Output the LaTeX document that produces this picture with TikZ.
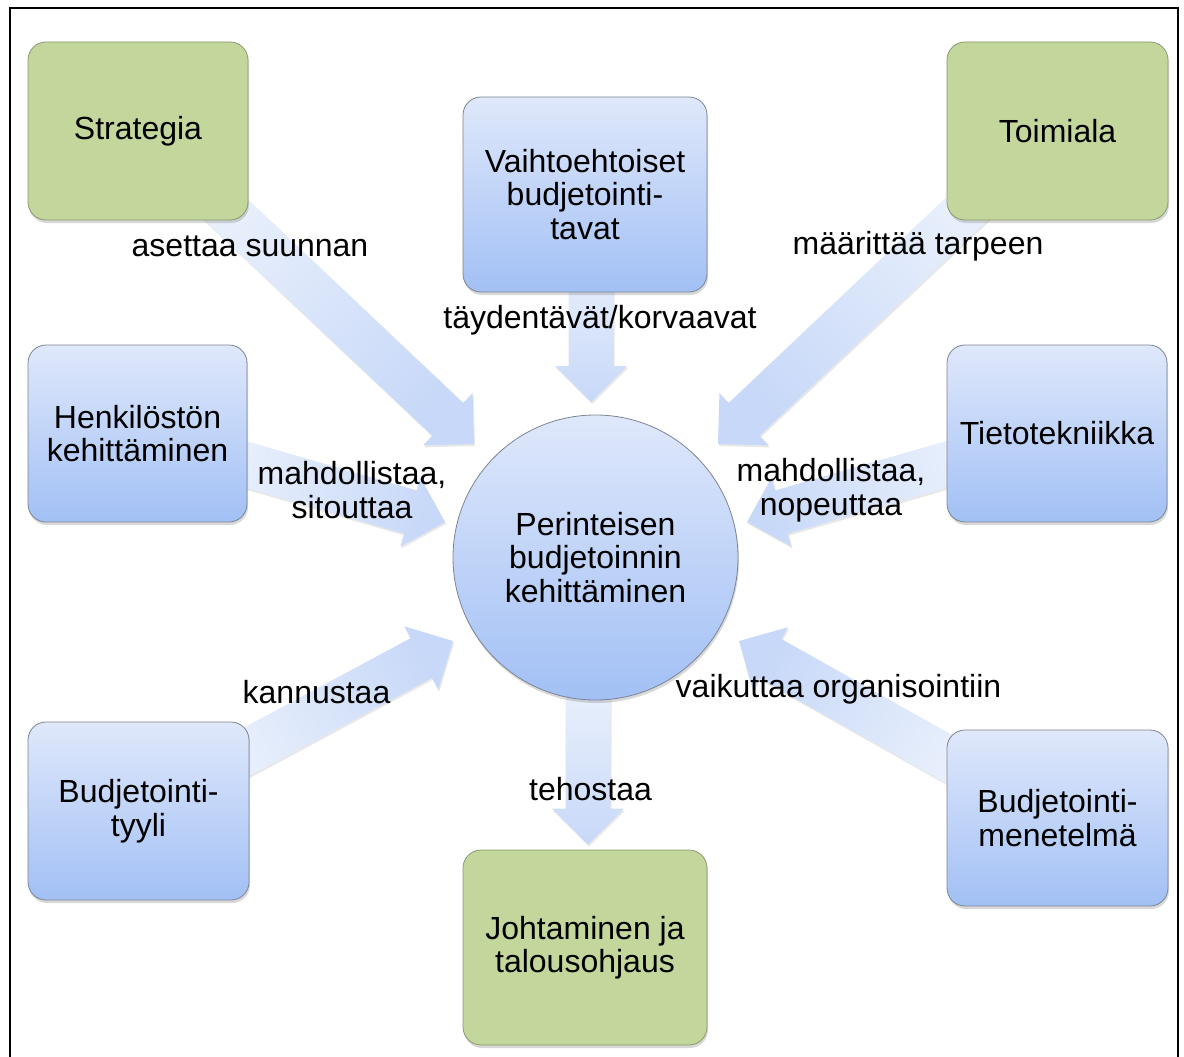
\documentclass[tikz,border=0pt]{standalone}
\usepackage{fontspec}
\setmainfont{Liberation Sans}
\usetikzlibrary{calc,shadows,backgrounds}
\pgfdeclarelayer{bottom}
\pgfsetlayers{bottom,background,main}
\definecolor{boxgreen}{HTML}{C3D69B}
\definecolor{greenline}{HTML}{8A9A70}
\definecolor{bluetop}{HTML}{DFE8FB}
\definecolor{bluebot}{HTML}{A2C0F5}
\definecolor{bluline}{HTML}{7D8594}
\definecolor{arrtail}{HTML}{E9F0FC}
\definecolor{arrhead}{HTML}{C7D8F8}
\newcommand\bigtxt{\fontsize{32}{33.5}\selectfont}
\newcommand\blkarr[3]{%
  \coordinate (hb) at ($(#2)!36pt!(#1)$);
  \path[arrowfill, shading angle=#3]
    ($(#1)!22.5pt!90:(#2)$) -- ($(hb)!22.5pt!90:(#2)$) -- ($(hb)!36pt!90:(#2)$)
    -- (#2) -- ($(hb)!36pt!-90:(#2)$) -- ($(hb)!22.5pt!-90:(#2)$)
    -- ($(#1)!22.5pt!-90:(#2)$) -- cycle;}
\tikzset{
  arrowfill/.style={top color=arrhead, bottom color=arrtail,
    drop shadow={opacity=0.18, shadow xshift=1pt, shadow yshift=-2pt}},
  boxbase/.style={rectangle, rounded corners=18pt, line width=0.8pt, align=center,
    font=\bigtxt, inner sep=2pt,
    drop shadow={opacity=0.3, shadow xshift=1pt, shadow yshift=-3pt}},
  gbox/.style={boxbase, fill=boxgreen, draw=greenline},
  bbox/.style={boxbase, top color=bluetop, bottom color=bluebot, draw=bluline},
  lbl/.style={font=\bigtxt, align=center, inner sep=0pt},
}
\begin{document}
\begin{tikzpicture}[x=1pt, y=-1pt]
\useasboundingbox (0,0) rectangle (1184,1057);
\begin{pgfonlayer}{bottom}
\fill[white] (0,0) rectangle (1184,1057);
\end{pgfonlayer}
\draw[line width=2pt] (10,1057) -- (10,8) -- (1178,8) -- (1178,1057);

% nodes
\node[gbox, minimum width=220pt, minimum height=178pt] (strat) at (138,131) {Strategia};
\node[bbox, minimum width=244pt, minimum height=195pt] (vaiht) at (585,194.5) {Vaihtoehtoiset\\budjetointi-\\tavat};
\node[gbox, minimum width=221pt, minimum height=178pt] (toim) at (1057.5,131) {Toimiala};
\node[bbox, minimum width=219pt, minimum height=177pt] (henk) at (137.5,433.5) {Henkilöstön\\kehittäminen};
\node[bbox, minimum width=220pt, minimum height=177pt] (tieto) at (1057,433.5) {Tietotekniikka};
\node[bbox, minimum width=221pt, minimum height=178pt] (tyyli) at (138.5,811) {Budjetointi-\\tyyli};
\node[bbox, minimum width=221pt, minimum height=176pt] (menet) at (1057.5,818) {Budjetointi-\\menetelmä};
\node[gbox, minimum width=244pt, minimum height=195pt] (joht) at (585,947.5) {Johtaminen ja\\talousohjaus};
\node[circle, minimum size=285pt, inner sep=0pt, top color=bluetop, bottom color=bluebot,
      draw=bluline, line width=0.8pt, align=center, font=\bigtxt,
      drop shadow={opacity=0.3, shadow xshift=1pt, shadow yshift=-3pt}] (c) at (595.5,557.5)
      {Perinteisen\\budjetoinnin\\kehittäminen};

% connector end points
\coordinate (t1) at ($(strat.center)+(62,54)$);
\coordinate (p1) at ($(c.center)+(-121.5,-113.5)$);
\coordinate (t2) at ($(vaiht.center)+(6,65.5)$);
\coordinate (p2) at ($(c.center)+(-4.5,-155.5)$);
\coordinate (t3) at ($(toim.center)+(-65.5,54)$);
\coordinate (p3) at ($(c.center)+(122.5,-113.5)$);
\coordinate (t4) at ($(henk.center)+(82.5,23.5)$);
\coordinate (p4) at ($(c.center)+(-150.5,-35.5)$);
\coordinate (t5) at ($(tieto.center)+(-85,23.5)$);
\coordinate (p5) at ($(c.center)+(151.5,-35.5)$);
\coordinate (t6) at ($(tyyli.center)+(81.5,-45)$);
\coordinate (p6) at ($(c.center)+(-142.5,83.5)$);
\coordinate (t7) at ($(menet.center)+(-85.5,-46)$);
\coordinate (p7) at ($(c.center)+(143.5,83.5)$);
\coordinate (t8) at ($(c.center)+(-7.5,132.5)$);
\coordinate (p8) at ($(joht.north)+(3,-5)$);

\begin{pgfonlayer}{background}
\blkarr{t1}{p1}{-133}
\blkarr{t2}{p2}{-180}
\blkarr{t3}{p3}{133}
\blkarr{t4}{p4}{-106}
\blkarr{t5}{p5}{106}
\blkarr{t6}{p6}{-62}
\blkarr{t7}{p7}{61}
\blkarr{t8}{p8}{180}
\end{pgfonlayer}

% labels
\node[lbl] (l1) at (250,246) {asettaa suunnan};
\node[lbl] (l2) at (600,320) {täydentävät/korvaavat};
\node[lbl] (l3) at (918,246) {määrittää tarpeen};
\node[lbl] (l4) at (352,490) {mahdollistaa,\\sitouttaa};
\node[lbl] (l5) at (831,490) {mahdollistaa,\\nopeuttaa};
\node[lbl] (l6) at (316.5,692) {kannustaa};
\node[lbl] (l7) at (838.5,689) {vaikuttaa organisointiin};
\node[lbl] (l8) at (590.5,789) {tehostaa};
\end{tikzpicture}
\end{document}
